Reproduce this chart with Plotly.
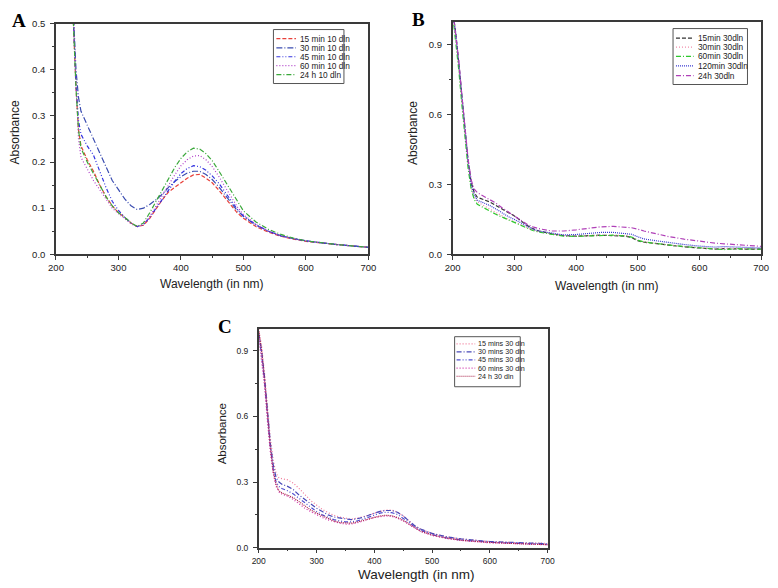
import plotly.graph_objects as go

# ---------------- Panel A data ----------------
wl_A = [222, 228, 232, 236, 240, 250, 260, 270, 280, 290, 300, 310, 320, 330, 340, 350, 360, 370,
        380, 390, 400, 410, 420, 430, 440, 450, 460, 470, 480, 490, 500, 520, 540, 560, 580, 600, 650, 700]
A_15min = [0.70, 0.50, 0.36, 0.27, 0.235, 0.205, 0.18, 0.15, 0.125, 0.105, 0.09, 0.08, 0.068, 0.06, 0.063,
           0.078, 0.098, 0.118, 0.135, 0.145, 0.155, 0.165, 0.172, 0.173, 0.165, 0.155, 0.14, 0.124, 0.106,
           0.09, 0.078, 0.06, 0.048, 0.039, 0.033, 0.028, 0.021, 0.015]
A_30min = [0.70, 0.50, 0.40, 0.34, 0.31, 0.28, 0.25, 0.22, 0.19, 0.16, 0.14, 0.12, 0.105, 0.097, 0.10,
           0.108, 0.118, 0.13, 0.145, 0.158, 0.168, 0.176, 0.18, 0.18, 0.173, 0.162, 0.147, 0.13, 0.112,
           0.095, 0.082, 0.063, 0.05, 0.04, 0.034, 0.029, 0.021, 0.015]
A_45min = [0.70, 0.50, 0.37, 0.29, 0.26, 0.235, 0.215, 0.18, 0.145, 0.115, 0.095, 0.08, 0.068, 0.06, 0.064,
           0.08, 0.10, 0.12, 0.14, 0.158, 0.175, 0.186, 0.192, 0.19, 0.182, 0.17, 0.155, 0.136, 0.116,
           0.098, 0.083, 0.064, 0.05, 0.04, 0.034, 0.029, 0.021, 0.015]
A_60min = [0.70, 0.50, 0.35, 0.25, 0.21, 0.185, 0.16, 0.14, 0.12, 0.10, 0.088, 0.078, 0.066, 0.06, 0.065,
           0.082, 0.105, 0.128, 0.15, 0.172, 0.192, 0.205, 0.213, 0.214, 0.205, 0.19, 0.17, 0.148, 0.124,
           0.103, 0.086, 0.065, 0.05, 0.04, 0.034, 0.029, 0.021, 0.015]
A_24h = [0.70, 0.50, 0.36, 0.27, 0.23, 0.20, 0.175, 0.15, 0.125, 0.105, 0.09, 0.08, 0.068, 0.06, 0.068,
         0.09, 0.115, 0.14, 0.163, 0.188, 0.208, 0.222, 0.23, 0.228, 0.218, 0.203, 0.182, 0.16, 0.137,
         0.113, 0.094, 0.07, 0.054, 0.043, 0.035, 0.029, 0.021, 0.015]
names_A = ["15 min 10 dln", "30 min 10 dln", "45 min 10 dln", "60 min 10 dln", "24 h 10 dln"]

# ---------------- Panel B data ----------------
wl_B = [200, 205, 210, 215, 220, 225, 230, 235, 240, 250, 260, 270, 280, 290, 300, 310, 320, 330, 340,
        360, 380, 400, 420, 440, 460, 480, 490, 500, 510, 530, 550, 575, 600, 625, 640, 660, 680, 700]
B_15min = [1.05, 0.95, 0.82, 0.67, 0.52, 0.40, 0.31, 0.265, 0.245, 0.235, 0.225, 0.21, 0.195, 0.18, 0.165,
           0.145, 0.125, 0.11, 0.10, 0.088, 0.08, 0.078, 0.08, 0.082, 0.08, 0.078, 0.072, 0.058, 0.052,
           0.045, 0.038, 0.032, 0.027, 0.022, 0.024, 0.022, 0.022, 0.022]
B_30min = [1.05, 0.94, 0.80, 0.65, 0.50, 0.38, 0.29, 0.245, 0.225, 0.21, 0.195, 0.18, 0.165, 0.15, 0.14,
           0.128, 0.115, 0.104, 0.096, 0.088, 0.08, 0.078, 0.08, 0.083, 0.082, 0.08, 0.075, 0.06, 0.053,
           0.046, 0.039, 0.033, 0.028, 0.024, 0.026, 0.024, 0.023, 0.023]
B_60min = [1.03, 0.92, 0.79, 0.64, 0.49, 0.37, 0.28, 0.235, 0.215, 0.20, 0.185, 0.172, 0.16, 0.148, 0.138,
           0.125, 0.112, 0.102, 0.095, 0.086, 0.078, 0.077, 0.079, 0.082, 0.082, 0.079, 0.074, 0.06, 0.053,
           0.046, 0.039, 0.033, 0.028, 0.023, 0.02, 0.024, 0.023, 0.022]
B_120min = [1.05, 0.95, 0.82, 0.67, 0.52, 0.40, 0.30, 0.255, 0.232, 0.222, 0.21, 0.195, 0.178, 0.162, 0.15,
            0.135, 0.12, 0.108, 0.10, 0.09, 0.083, 0.085, 0.09, 0.094, 0.094, 0.09, 0.086, 0.075, 0.066,
            0.058, 0.05, 0.042, 0.035, 0.031, 0.033, 0.03, 0.028, 0.027]
B_24h = [1.05, 0.95, 0.83, 0.68, 0.53, 0.41, 0.32, 0.28, 0.265, 0.25, 0.237, 0.22, 0.20, 0.182, 0.167,
         0.148, 0.13, 0.118, 0.11, 0.10, 0.10, 0.105, 0.112, 0.118, 0.12, 0.117, 0.114, 0.108, 0.10,
         0.088, 0.076, 0.065, 0.055, 0.048, 0.045, 0.041, 0.037, 0.034]
names_B = ["15min 30dln", "30min 30dln", "60min 30dln", "120min 30dln", "24h 30dln"]

# ---------------- Panel C data ----------------
wl_C = [200, 205, 210, 215, 220, 225, 230, 235, 240, 250, 260, 270, 280, 290, 300, 310, 320, 330, 340,
        350, 360, 370, 380, 390, 400, 410, 420, 430, 440, 450, 460, 470, 480, 500, 525, 550, 600, 650, 700]
C_15min = [1.0, 0.92, 0.80, 0.64, 0.50, 0.40, 0.34, 0.32, 0.315, 0.31, 0.295, 0.27, 0.24, 0.215, 0.195,
           0.175, 0.16, 0.148, 0.14, 0.135, 0.13, 0.135, 0.14, 0.148, 0.158, 0.165, 0.172, 0.172, 0.163,
           0.145, 0.122, 0.10, 0.085, 0.065, 0.05, 0.04, 0.028, 0.022, 0.02]
C_30min = [0.98, 0.90, 0.78, 0.62, 0.48, 0.38, 0.32, 0.30, 0.29, 0.28, 0.265, 0.24, 0.22, 0.20, 0.18,
           0.165, 0.15, 0.14, 0.135, 0.13, 0.128, 0.132, 0.138, 0.148, 0.158, 0.166, 0.17, 0.17, 0.162,
           0.145, 0.122, 0.10, 0.085, 0.065, 0.05, 0.04, 0.028, 0.022, 0.018]
C_45min = [0.97, 0.88, 0.76, 0.60, 0.46, 0.36, 0.30, 0.28, 0.27, 0.26, 0.245, 0.225, 0.205, 0.185, 0.165,
           0.15, 0.138, 0.128, 0.122, 0.118, 0.118, 0.122, 0.13, 0.14, 0.15, 0.158, 0.162, 0.16, 0.152,
           0.135, 0.115, 0.095, 0.08, 0.06, 0.045, 0.035, 0.025, 0.02, 0.015]
C_60min = [0.96, 0.86, 0.74, 0.58, 0.44, 0.34, 0.28, 0.255, 0.245, 0.235, 0.22, 0.20, 0.18, 0.165, 0.15,
           0.138, 0.127, 0.118, 0.112, 0.108, 0.108, 0.113, 0.12, 0.13, 0.138, 0.143, 0.145, 0.143, 0.135,
           0.122, 0.105, 0.088, 0.074, 0.056, 0.042, 0.033, 0.022, 0.018, 0.013]
C_24h = [0.99, 0.90, 0.77, 0.60, 0.46, 0.35, 0.29, 0.26, 0.25, 0.24, 0.228, 0.21, 0.19, 0.172, 0.158,
         0.145, 0.132, 0.122, 0.115, 0.112, 0.112, 0.117, 0.124, 0.133, 0.14, 0.145, 0.148, 0.146, 0.138,
         0.125, 0.108, 0.09, 0.076, 0.058, 0.044, 0.034, 0.024, 0.018, 0.014]
names_C = ["15 mins 30 dln", "30 mins 30 dln", "45 mins 30 dln", "60 mins 30 dln", "24 h 30 dln"]

x_ticks = [200, 300, 400, 500, 600, 700]
yA_ticks = [0.0, 0.1, 0.2, 0.3, 0.4, 0.5]
yBC_ticks = [0.0, 0.3, 0.6, 0.9]

styles_A = [("#e8403a", "4px,2px"), ("#3a4cb0", "6px,2px,1px,2px"), ("#3434e0", "4px,2px,1px,2px,1px,2px"),
            ("#b040c8", "1px,2px"), ("#3aa83a", "5px,2px,1px,2px")]
styles_B = [("#333333", "4px,2px"), ("#f08aa8", "1px,2px"), ("#2ec82e", "5px,2px,1px,2px"),
            ("#3838d0", "1px,1px"), ("#b040b8", "5px,2px,1px,2px")]
styles_C = [("#f07898", "1px,2px"), ("#4848b8", "5px,2px,1px,2px"), ("#5050d0", "4px,2px,1px,2px,1px,2px"),
            ("#d030a8", "1px,2px"), ("#a82048", "1px,1px")]

FONT = "Liberation Sans, Arial, sans-serif"
SERIF = "Liberation Serif, Times New Roman, serif"

# the page body margin is removed (post_script), so the figure fills the 778x588 window
W, H = 778, 588
def px(p):
    return p / W
def py(p):
    return 1 - p / H

fig = go.Figure()
panels = [
    (wl_A, [A_15min, A_30min, A_45min, A_60min, A_24h], styles_A, "x", "y"),
    (wl_B, [B_15min, B_30min, B_60min, B_120min, B_24h], styles_B, "x2", "y2"),
    (wl_C, [C_15min, C_30min, C_45min, C_60min, C_24h], styles_C, "x3", "y3"),
]
all_names = [names_A, names_B, names_C]
for (wl, series, styles, xa, ya), names in zip(panels, all_names):
    for s, n, (c, d) in zip(series, names, styles):
        fig.add_trace(go.Scatter(x=wl, y=s, name=n, mode="lines", xaxis=xa, yaxis=ya, showlegend=False,
                                 line=dict(color=c, width=1.2, dash=d)))

axis_common = dict(showline=True, linecolor="#3a3a3a", linewidth=1.5, mirror=True, ticks="outside",
                   ticklen=4, tickwidth=1, tickcolor="#3a3a3a", showgrid=False, zeroline=False)

def xax(l, r, anchor, fs):
    return dict(axis_common, domain=[px(l), px(r)], anchor=anchor, range=[200, 700], tickvals=x_ticks,
                tickfont=dict(family=FONT, size=fs, color="#222"),
                minor=dict(ticks="outside", ticklen=2, dtick=50, tickcolor="#3a3a3a"))

def yax(t, b, anchor, rng, tv, mdt, fs):
    return dict(axis_common, domain=[py(b), py(t)], anchor=anchor, range=rng, tickvals=tv, tickformat=".1f",
                tickfont=dict(family=FONT, size=fs, color="#222"), ticklabelstandoff=3,
                minor=dict(ticks="outside", ticklen=2, dtick=mdt, tickcolor="#3a3a3a"))

fig.update_layout(
    width=W, height=H, margin=dict(l=0, r=0, t=0, b=0),
    paper_bgcolor="white", plot_bgcolor="white", showlegend=False,
    xaxis=xax(49, 368, "y", 9.5),
    yaxis=yax(18, 253, "x", [0, 0.5], yA_ticks, 0.05, 9.5),
    xaxis2=xax(454, 769, "y2", 9.5),
    yaxis2=yax(16, 253, "x2", [0, 1.0], yBC_ticks, 0.15, 9.5),
    xaxis3=xax(256, 551, "y3", 8.5),
    yaxis3=yax(329, 552, "x3", [0, 1.0], yBC_ticks, 0.15, 8.5),
)

# legends (box, line samples, labels)
legends = [
    (names_A, styles_A, (271, 24, 343, 79), [33.3, 42.7, 51.7, 60.7, 70], 274, 294, 296, 8.3),
    (names_B, styles_B, (679, 23, 755, 80), [32.7, 42, 51.3, 61, 71], 682, 700, 702, 8.3),
    (names_C, styles_C, (456, 337, 523, 388), [344.3, 352.5, 360.7, 369, 377.3], 458, 477, 478, 7.2),
]
for names, styles, (x0, y0, x1, y1), ys, lx0, lx1, tx, fs in legends:
    fig.add_shape(type="rect", xref="paper", yref="paper", x0=px(x0), x1=px(x1), y0=py(y1), y1=py(y0),
                  line=dict(color="#555", width=1), fillcolor="white", layer="above")
    for n, (c, d), yy in zip(names, styles, ys):
        fig.add_shape(type="line", xref="paper", yref="paper", x0=px(lx0), x1=px(lx1), y0=py(yy), y1=py(yy),
                      line=dict(color=c, width=1.2, dash=d), layer="above")
        fig.add_annotation(text=n, x=px(tx), y=py(yy), xref="paper", yref="paper", xanchor="left",
                           yanchor="middle", showarrow=False, font=dict(family=FONT, size=fs, color="#222"))

letters = [("<b>A</b>", 2, 2), ("<b>B</b>", 410, 1), ("<b>C</b>", 212, 314)]
for t, lx, ly in letters:
    fig.add_annotation(text=t, x=px(lx), y=py(ly), xref="paper", yref="paper", xanchor="left",
                       yanchor="top", showarrow=False, font=dict(family=SERIF, size=19, color="black"))

titles = [
    ("Wavelength (in nm)", 208.5, 283, 0, 12), ("Absorbance", 7, 129, -90, 12),
    ("Wavelength (in nm)", 612, 285, 0, 12), ("Absorbance", 413, 130, -90, 12),
    ("Wavelength (in nm)", 416.7, 579, 0, 13.5), ("Absorbance", 218, 436, -90, 11.5),
]
for t, tx, ty, ang, fs in titles:
    fig.add_annotation(text=t, x=px(tx), y=py(ty), xref="paper", yref="paper", xanchor="center",
                       yanchor="middle", showarrow=False, textangle=ang,
                       font=dict(family=FONT, size=fs, color="#222"))

fig.write_html("out.html", config={"displayModeBar": False},
               post_script="document.body.style.margin='0';document.body.style.overflow='hidden';")
